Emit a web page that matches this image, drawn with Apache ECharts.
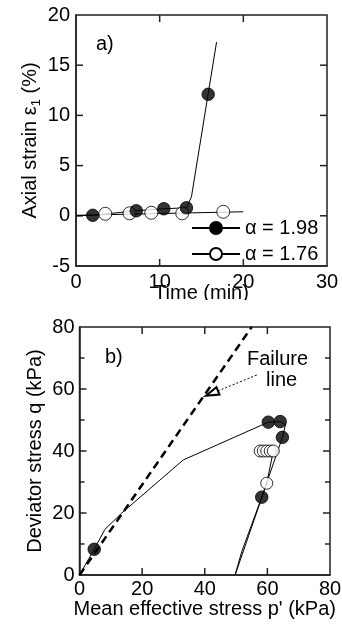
<!DOCTYPE html>
<html><head><meta charset="utf-8">
<script src="https://cdn.jsdelivr.net/npm/echarts@6/dist/echarts.min.js"></script>
<style>html,body{margin:0;padding:0;background:#fff}#ca{width:342px;height:300px}#cb{width:342px;height:328px}</style>
</head><body><div id="ca"></div><div id="cb"></div>
<script>
// ---- (a) Axial strain vs time ----
const timeRange = [0, 30];
const strainRange = [-5, 20];
const timeTicks = [10, 20];
const strainTicks = [0, 5, 10, 15];
const filledA_line = [[0,0],[2.0,0.05],[7.2,0.5],[10.5,0.7],[13.2,0.8],[13.8,1.9],[16.8,17.3]];
const filledA_pts = [[2.0,0.05],[7.2,0.5],[10.5,0.7],[13.2,0.8],[15.8,12.1]];
const openA_line = [[0,0.05],[20,0.4]];
const openA_pts = [[3.5,0.2],[6.4,0.25],[9.0,0.3],[12.7,0.25],[17.6,0.4]];
const legendNames = ['α = 1.98', 'α = 1.76'];
// ---- (b) Stress path ----
const pRange = [0, 80];
const qRange = [0, 80];
const pTicks = [20, 40, 60];
const qTicks = [20, 40, 60];
const qMinorTicks = [10, 30, 50, 70];
const filledB_line = [[49.7,0],[51.8,7.5],[58.2,25.1],[64.8,44.4],[65.8,48.5],[64.1,49.5],[60.3,49.3],[33.1,37.1],[13.4,19.9],[8.1,14.7],[4.7,8.3],[1.8,3.2],[0,0]];
const filledB_pts = [[58.2,25.1],[64.8,44.4],[64.1,49.5],[60.3,49.3],[4.7,8.3]];
const openB_line = [[49.7,0],[59.8,29.6],[61.9,40]];
const openB_pts = [[59.8,29.6],[57.7,40],[58.7,40],[59.8,40],[60.9,40],[61.9,40]];
const failureLine = [[0,0],[55,80]];
const arrowFrom = [56.6,64.5];
const arrowTo = [42.3,58.6];

const FONT = 'Liberation Sans, Arial, sans-serif';
const AX = '#222';
function ax(range, interval, margin) {
  return {
    type: 'value', min: range[0], max: range[1], interval: interval,
    axisLine: {show: true, onZero: false, lineStyle: {color: AX, width: 1.5}},
    axisTick: {show: false},
    axisLabel: {show: true, margin: margin, fontFamily: FONT, fontSize: 20, color: '#000'},
    splitLine: {show: false}
  };
}
function frame(l, t, w, h) {
  return {left: l, top: t, width: w, height: h, show: true, borderColor: AX, borderWidth: 1.5,
    backgroundColor: 'transparent', outerBoundsMode: 'none'};
}
function filledStyle() { return {color: '#000', borderColor: '#000', borderWidth: 1}; }
function openStyle() { return {color: '#fff', borderColor: '#000', borderWidth: 1}; }
function title(text, x, y, rot, align, vAlign, rich) {
  const st = {text: text, fill: '#000', fontFamily: FONT, fontSize: 20, align: align, verticalAlign: vAlign};
  if (rich) { st.rich = rich; st.lineHeight = 26; }
  return {type: 'text', x: x, y: y, rotation: rot, style: st, z: 10};
}
// inward ticks on both opposite edges, placed through the library's own scale (api.coord)
function tickSeries(dir, values, xr, yr, len) {
  return {
    type: 'custom', silent: true, clip: false, z: 1,
    data: values.map(v => dir === 'x' ? [v, yr[0]] : [xr[0], v]),
    renderItem: function (params, api) {
      const st = {stroke: AX, lineWidth: 1.5};
      if (dir === 'x') {
        const v = api.value(0);
        const a = api.coord([v, yr[0]]), b = api.coord([v, yr[1]]);
        return {type: 'group', children: [
          {type: 'line', shape: {x1: a[0], y1: a[1], x2: a[0], y2: a[1] - len}, style: st},
          {type: 'line', shape: {x1: b[0], y1: b[1], x2: b[0], y2: b[1] + len}, style: st}
        ]};
      }
      const v = api.value(1);
      const a = api.coord([xr[0], v]), b = api.coord([xr[1], v]);
      return {type: 'group', children: [
        {type: 'line', shape: {x1: a[0], y1: a[1], x2: a[0] + len, y2: a[1]}, style: st},
        {type: 'line', shape: {x1: b[0], y1: b[1], x2: b[0] - len, y2: b[1]}, style: st}
      ]};
    }
  };
}

echarts.init(document.getElementById('ca')).setOption({
  animation: false,
  grid: frame(76, 15, 251, 251),
  xAxis: ax(timeRange, 10, 6),
  yAxis: ax(strainRange, 5, 6),
  legend: {
    data: legendNames, orient: 'vertical', left: 191, top: 218, padding: 0,
    itemWidth: 48, itemHeight: 15, itemGap: 6, selectedMode: false,
    textStyle: {fontFamily: FONT, fontSize: 20, color: '#000', lineHeight: 20}
  },
  series: [
    tickSeries('x', timeTicks, timeRange, strainRange, 7),
    tickSeries('y', strainTicks, timeRange, strainRange, 7),
    {type: 'line', name: legendNames[0], data: filledA_line,
      symbol: 'circle', showSymbol: false, lineStyle: {color: '#000', width: 1}, itemStyle: filledStyle()},
    {type: 'line', name: legendNames[1], data: openA_line,
      symbol: 'circle', showSymbol: false, lineStyle: {color: '#000', width: 1}, itemStyle: openStyle()},
    {type: 'scatter', data: openA_pts, symbol: 'circle', symbolSize: 13, itemStyle: openStyle(), z: 3},
    {type: 'scatter', data: filledA_pts, symbol: 'circle', symbolSize: 12.5, itemStyle: filledStyle(), z: 4}
  ],
  graphic: [
    title('Time (min)', 201.5, 283, 0, 'center', 'top'),
    title('Axial strain ε{sub|1} (%)', 30, 140.5, Math.PI / 2, 'center', 'middle',
      {sub: {fontFamily: FONT, fontSize: 13, fill: '#000', verticalAlign: 'bottom', lineHeight: 14}}),
    title('a)', 96, 34, 0, 'left', 'top')
  ]
});

echarts.init(document.getElementById('cb')).setOption({
  animation: false,
  grid: frame(79.5, 27, 250.5, 248),
  xAxis: ax(pRange, 20, 4),
  yAxis: ax(qRange, 20, 5),
  series: [
    tickSeries('x', pTicks, pRange, qRange, 7),
    tickSeries('y', qTicks, pRange, qRange, 7),
    tickSeries('y', qMinorTicks, pRange, qRange, 5),
    {type: 'line', data: failureLine, symbol: 'none',
      lineStyle: {color: '#000', width: 2.5, type: [8, 5]},
      markLine: {silent: true, symbol: ['none', 'emptyTriangle'], symbolSize: [8, 13],
        lineStyle: {color: '#000', width: 1, type: [2, 2]}, label: {show: false},
        data: [[{coord: arrowFrom}, {coord: arrowTo}]]}},
    {type: 'line', data: filledB_line, symbol: 'none', lineStyle: {color: '#000', width: 1}},
    {type: 'line', data: openB_line, symbol: 'none', lineStyle: {color: '#000', width: 1}},
    {type: 'scatter', data: openB_pts, symbol: 'circle', symbolSize: 12, itemStyle: openStyle(), z: 3},
    {type: 'scatter', data: filledB_pts, symbol: 'circle', symbolSize: 12.5, itemStyle: filledStyle(), z: 4}
  ],
  graphic: [
    title("Mean effective stress p' (kPa)", 204.75, 299, 0, 'center', 'top'),
    title('Deviator stress q (kPa)', 35, 151, Math.PI / 2, 'center', 'middle'),
    title('b)', 105, 47, 0, 'left', 'top'),
    title('Failure', 247, 49, 0, 'left', 'top'),
    title('line', 266, 70, 0, 'left', 'top')
  ]
});
</script></body></html>
